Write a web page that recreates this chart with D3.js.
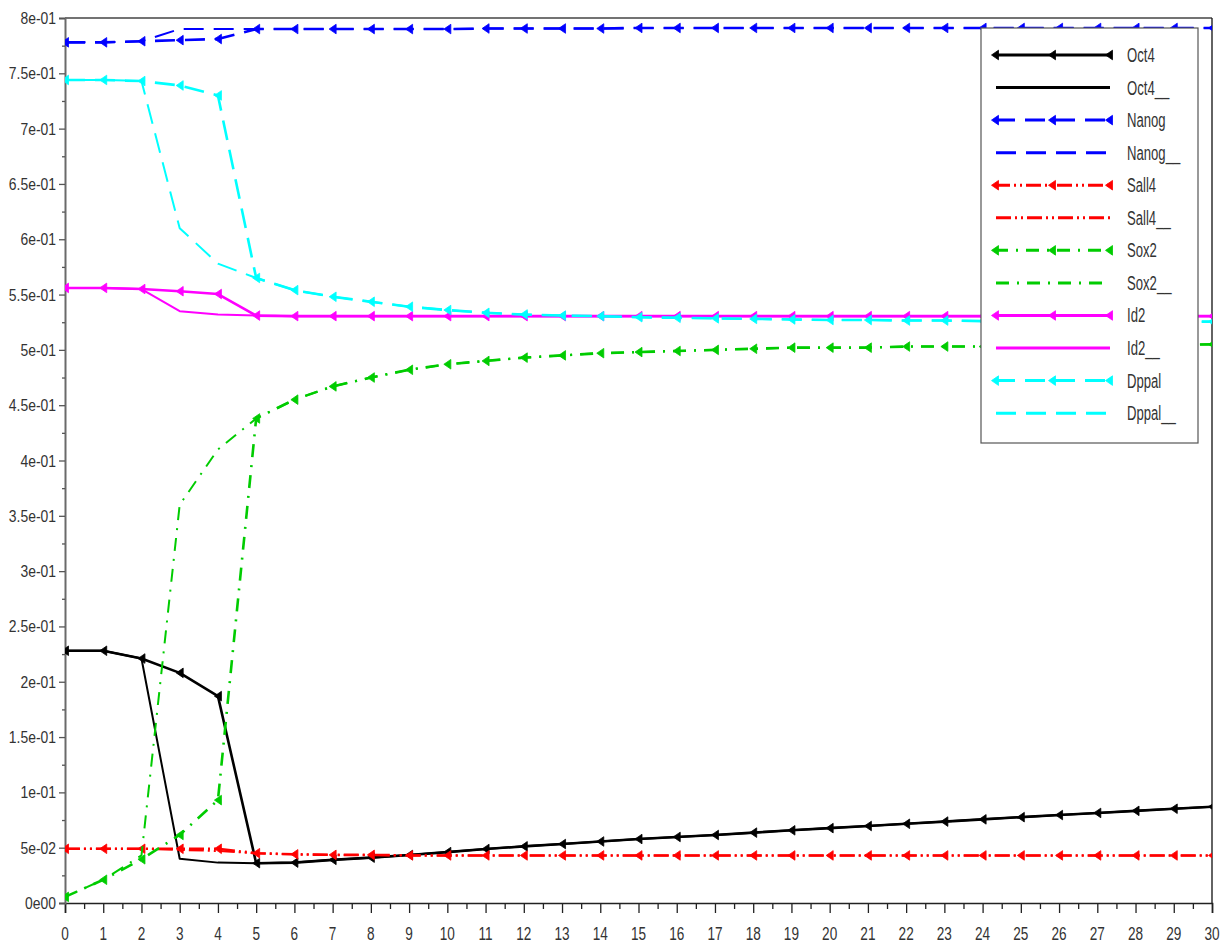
<!DOCTYPE html>
<html>
<head>
<meta charset="utf-8">
<script src="https://cdn.jsdelivr.net/npm/d3@7"></script>
<style>
  html, body { margin: 0; padding: 0; background: #fff; }
  svg { display: block; }
  text { font-family: "Liberation Sans", Arial, sans-serif; fill: #333; }
</style>
</head>
<body>
<svg id="chart" width="1224" height="945"></svg>
<script>
// Time steps (x axis)
const steps = [0,1,2,3,4,5,6,7,8,9,10,11,12,13,14,15,16,17,18,19,20,21,22,23,24,25,26,27,28,29,30];

// Expression levels per gene; "__" series are the second run
const oct4 = [0.228,0.228,0.221,0.208,0.187,0.036,0.0365,0.039,0.041,0.0434,0.046,0.0488,0.0512,0.0533,0.0556,0.0578,0.0597,0.0615,0.0636,0.0657,0.0677,0.0696,0.0716,0.0736,0.0756,0.0776,0.0795,0.0814,0.0833,0.0852,0.087];
const oct4b = [0.228,0.228,0.221,0.040,0.0365,0.036,0.0365,0.039,0.041,0.0434,0.046,0.0488,0.0512,0.0533,0.0556,0.0578,0.0597,0.0615,0.0636,0.0657,0.0677,0.0696,0.0716,0.0736,0.0756,0.0776,0.0795,0.0814,0.0833,0.0852,0.087];
const nanog = [0.778,0.778,0.779,0.780,0.781,0.790,0.790,0.790,0.790,0.790,0.790,0.7905,0.7905,0.7905,0.7905,0.791,0.791,0.791,0.791,0.791,0.791,0.791,0.791,0.791,0.791,0.791,0.791,0.791,0.791,0.791,0.791];
const nanogb = [0.778,0.778,0.779,0.790,0.790,0.790,0.790,0.790,0.790,0.790,0.790,0.7905,0.7905,0.7905,0.7905,0.791,0.791,0.791,0.791,0.791,0.791,0.791,0.791,0.791,0.791,0.791,0.791,0.791,0.791,0.791,0.791];
const sall4 = [0.049,0.049,0.049,0.049,0.049,0.045,0.044,0.0435,0.0435,0.043,0.043,0.043,0.043,0.043,0.043,0.043,0.043,0.043,0.043,0.043,0.043,0.043,0.043,0.043,0.043,0.043,0.043,0.043,0.043,0.043,0.043];
const sall4b = [0.049,0.049,0.049,0.048,0.047,0.045,0.044,0.0435,0.0435,0.043,0.043,0.043,0.043,0.043,0.043,0.043,0.043,0.043,0.043,0.043,0.043,0.043,0.043,0.043,0.043,0.043,0.043,0.043,0.043,0.043,0.043];
const sox2 = [0.0055,0.021,0.0395,0.0615,0.093,0.438,0.455,0.467,0.475,0.482,0.487,0.490,0.493,0.495,0.497,0.498,0.499,0.500,0.501,0.502,0.502,0.502,0.503,0.503,0.503,0.504,0.504,0.504,0.504,0.5045,0.505];
const sox2b = [0.0055,0.021,0.043,0.360,0.410,0.438,0.455,0.467,0.475,0.482,0.487,0.490,0.493,0.495,0.497,0.498,0.499,0.500,0.501,0.502,0.502,0.502,0.503,0.503,0.503,0.504,0.504,0.504,0.504,0.5045,0.505];
const id2 = [0.556,0.556,0.555,0.553,0.5505,0.531,0.5305,0.5305,0.5305,0.5305,0.5305,0.5305,0.5305,0.5305,0.5305,0.5305,0.5305,0.5305,0.5305,0.5305,0.5305,0.5305,0.5305,0.5305,0.5305,0.5305,0.5305,0.5305,0.5305,0.5305,0.5305];
const id2b = [0.556,0.556,0.555,0.535,0.532,0.531,0.5305,0.5305,0.5305,0.5305,0.5305,0.5305,0.5305,0.5305,0.5305,0.5305,0.5305,0.5305,0.5305,0.5305,0.5305,0.5305,0.5305,0.5305,0.5305,0.5305,0.5305,0.5305,0.5305,0.5305,0.5305];
const dppal = [0.744,0.744,0.743,0.739,0.730,0.565,0.554,0.548,0.5435,0.539,0.536,0.5335,0.532,0.531,0.5305,0.5295,0.529,0.5285,0.528,0.5275,0.527,0.527,0.5265,0.5265,0.526,0.526,0.526,0.526,0.526,0.5255,0.5255];
const dppalb = [0.744,0.744,0.743,0.610,0.578,0.565,0.554,0.548,0.5435,0.539,0.536,0.5335,0.532,0.531,0.5305,0.5295,0.529,0.5285,0.528,0.5275,0.527,0.527,0.5265,0.5265,0.526,0.526,0.526,0.526,0.526,0.5255,0.5255];

const seriesNames = ["Oct4","Oct4__","Nanog","Nanog__","Sall4","Sall4__","Sox2","Sox2__","Id2","Id2__","Dppal","Dppal__"];

const yTickValues = [0,0.05,0.1,0.15,0.2,0.25,0.3,0.35,0.4,0.45,0.5,0.55,0.6,0.65,0.7,0.75,0.8];
const yTickLabels = ["0e00","5e-02","1e-01","1.5e-01","2e-01","2.5e-01","3e-01","3.5e-01","4e-01","4.5e-01","5e-01","5.5e-01","6e-01","6.5e-01","7e-01","7.5e-01","8e-01"];
const xTickLabels = ["0","1","2","3","4","5","6","7","8","9","10","11","12","13","14","15","16","17","18","19","20","21","22","23","24","25","26","27","28","29","30"];

// Line styles
const DASH = "20,10";
const DASH_DOT2 = "15,4,2,4,2,4";
const DASH_DOT = "13,8,2,8";
const styles = [
  { color: "#000000", dash: null, marker: true },
  { color: "#000000", dash: null, marker: false },
  { color: "#0000ff", dash: DASH, marker: true },
  { color: "#0000ff", dash: DASH, marker: false },
  { color: "#ff0000", dash: DASH_DOT2, marker: true },
  { color: "#ff0000", dash: DASH_DOT2, marker: false },
  { color: "#00cc00", dash: DASH_DOT, marker: true },
  { color: "#00cc00", dash: DASH_DOT, marker: false },
  { color: "#ff00ff", dash: null, marker: true },
  { color: "#ff00ff", dash: null, marker: false },
  { color: "#00ffff", dash: DASH, marker: true },
  { color: "#00ffff", dash: DASH, marker: false }
];
const seriesValues = [oct4, oct4b, nanog, nanogb, sall4, sall4b, sox2, sox2b, id2, id2b, dppal, dppalb];

const svg = d3.select("#chart");
const plotLeft = 65, plotRight = 1212, plotTop = 18, plotBottom = 903;

const x = d3.scaleLinear().domain([0, 30]).range([plotLeft, plotRight]);
const y = d3.scaleLinear().domain([0, 0.8]).range([plotBottom, plotTop]);

svg.append("defs").append("clipPath").attr("id", "plotClip")
  .append("rect").attr("x", plotLeft).attr("y", plotTop)
  .attr("width", plotRight - plotLeft).attr("height", plotBottom - plotTop);

// Frame: top and right borders
svg.append("line").attr("x1", plotLeft).attr("x2", plotRight).attr("y1", plotTop).attr("y2", plotTop)
  .attr("stroke", "#444").attr("stroke-width", 1.6);
svg.append("line").attr("x1", plotRight).attr("x2", plotRight).attr("y1", plotTop).attr("y2", plotBottom)
  .attr("stroke", "#222").attr("stroke-width", 1.4);

// X axis with major and minor ticks
const xMajor = d3.axisBottom(x).tickValues(steps).tickSize(10).tickFormat("");
const xMinor = d3.axisBottom(x).tickValues(steps.slice(0, -1).map(v => v + 0.5)).tickSize(6).tickFormat("");
const gx = svg.append("g").attr("transform", `translate(0,${plotBottom})`).call(xMajor);
const gx2 = svg.append("g").attr("transform", `translate(0,${plotBottom})`).call(xMinor);
gx2.select(".domain").remove();
gx.select(".domain").attr("stroke", "#222").attr("stroke-width", 1.6);
gx.selectAll(".tick line").attr("stroke", "#222").attr("stroke-width", 1.3);
gx2.selectAll(".tick line").attr("stroke", "#222").attr("stroke-width", 1.3);

svg.append("g").selectAll("text").data(steps).join("text")
  .attr("transform", d => `translate(${x(d)},940) scale(0.85,1.2)`)
  .attr("text-anchor", "middle")
  .attr("font-size", 16)
  .text((d, i) => xTickLabels[i]);

// Y axis with major and minor ticks
const yMajor = d3.axisLeft(y).tickValues(yTickValues).tickSize(6).tickFormat("");
const yMinor = d3.axisLeft(y).tickValues(yTickValues.slice(0, -1).map(v => v + 0.025)).tickSize(3).tickFormat("");
const gy = svg.append("g").attr("transform", `translate(${plotLeft},0)`).call(yMajor);
const gy2 = svg.append("g").attr("transform", `translate(${plotLeft},0)`).call(yMinor);
gy2.select(".domain").remove();
gy.select(".domain").attr("stroke", "#6a6a6a").attr("stroke-width", 2);
gy.selectAll(".tick line").attr("stroke", "#555").attr("stroke-width", 1.3);
gy2.selectAll(".tick line").attr("stroke", "#555").attr("stroke-width", 1.3);

svg.append("g").selectAll("text").data(yTickValues).join("text")
  .attr("transform", d => `translate(56,${y(d) + 6}) scale(0.87,1.05)`)
  .attr("text-anchor", "end")
  .attr("font-size", 16)
  .text((d, i) => yTickLabels[i]);

// Left-pointing triangle marker
const tri = "M-3.5,0 L3.5,-4.8 L3.5,4.8 Z";

const line = d3.line().x((d, i) => x(steps[i])).y(d => y(d));
const plot = svg.append("g").attr("clip-path", "url(#plotClip)");

const paths = [];
seriesValues.forEach((vals, k) => {
  const st = styles[k];
  const p = plot.append("path")
    .attr("d", line(vals))
    .attr("fill", "none")
    .attr("stroke", st.color)
    .attr("stroke-width", st.marker ? 2.6 : 2)
    .attr("stroke-linejoin", "round");
  if (st.dash) p.attr("stroke-dasharray", st.dash);
  paths.push(p);
  if (st.marker) {
    plot.append("g").selectAll("path").data(vals).join("path")
      .attr("d", tri)
      .attr("transform", (d, i) => `translate(${x(steps[i])},${y(d)})`)
      .attr("fill", st.color)
      .attr("stroke", st.color)
      .attr("stroke-width", 0.8);
  }
});

// Keep the dash phase of each second-run line in step with its partner
// where the two curves share the same tail.
for (let k = 1; k < paths.length; k += 2) {
  const st = styles[k];
  if (!st.dash) continue;
  const period = d3.sum(st.dash.split(",").map(Number));
  const lm = paths[k - 1].node().getTotalLength();
  const lp = paths[k].node().getTotalLength();
  let off = (lm - lp) % period;
  if (off < 0) off += period;
  paths[k].attr("stroke-dashoffset", off);
}

// Legend
const lg = svg.append("g");
lg.append("rect").attr("x", 981).attr("y", 28).attr("width", 217).attr("height", 415)
  .attr("fill", "#fff").attr("stroke", "#555").attr("stroke-width", 1.2);
seriesNames.forEach((name, i) => {
  const st = styles[i];
  const cy = 55 + i * 32.56;
  const l = lg.append("line")
    .attr("x1", st.marker ? 995 : 996).attr("x2", st.marker ? 1109 : 1110)
    .attr("y1", cy).attr("y2", cy)
    .attr("stroke", st.color).attr("stroke-width", 3);
  if (st.dash) l.attr("stroke-dasharray", st.dash);
  if (st.marker) {
    [995, 1052, 1109].forEach(mx => {
      lg.append("path").attr("d", tri)
        .attr("transform", `translate(${mx},${cy})`)
        .attr("fill", st.color).attr("stroke", st.color).attr("stroke-width", 0.8);
    });
  }
  lg.append("text")
    .attr("transform", `translate(1127,${cy + 7}) scale(0.82,1.3)`)
    .attr("font-size", 16)
    .text(name);
});
</script>
</body>
</html>
